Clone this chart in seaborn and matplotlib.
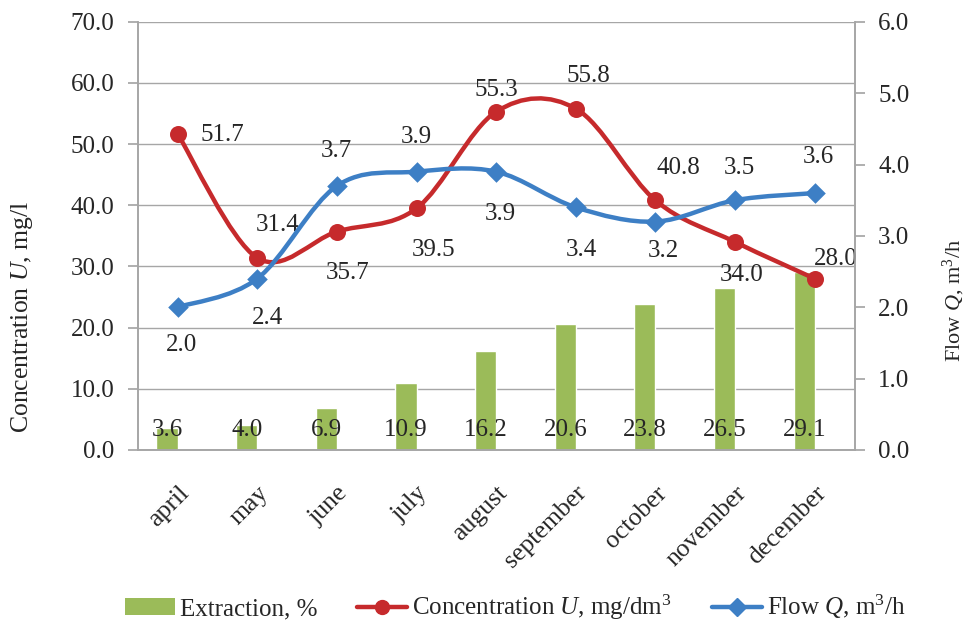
import numpy as np
import pandas as pd
import matplotlib
matplotlib.use("Agg")
import matplotlib.pyplot as plt
from matplotlib.path import Path
from matplotlib.patches import PathPatch, Patch
from matplotlib.lines import Line2D
import seaborn as sns

# data
months = ["april", "may", "june", "july", "august", "september",
          "october", "november", "december"]
extraction = [3.6, 4.0, 6.9, 10.9, 16.2, 20.6, 23.8, 26.5, 29.1]
concentration = [51.7, 31.4, 35.7, 39.5, 55.3, 55.8, 40.8, 34.0, 28.0]
flow = [2.0, 2.4, 3.7, 3.9, 3.9, 3.4, 3.2, 3.5, 3.6]

# label offsets in pixels (dx, dy) relative to each marker
conc_offsets = [(45, -1), (20, 33), (11, -41), (17, -42), (0, 22),
                (13, 33), (23, 32), (7, -33), (21, 20)]
flow_offsets = [(4, -38), (10, -39), (0, 35), (0, 35), (4, -42),
                (6, -43), (8, -29), (4, 32), (4, 36)]

RED = "#C62A2C"
BLUE = "#3D7FC5"
GREEN = "#9BBB59"
GRID = "#A6A6A6"

sns.set_theme(style="white")
plt.rcParams["font.family"] = ["Liberation Serif", "DejaVu Serif"]
plt.rcParams["mathtext.fontset"] = "custom"
plt.rcParams["mathtext.rm"] = "Liberation Serif"
plt.rcParams["mathtext.it"] = "Liberation Serif:italic"

FS = 18


def smooth_path(xs, ys):
    """Excel-like smoothed line: Catmull-Rom segments as cubic Beziers."""
    pts = np.column_stack([xs, ys]).astype(float)
    ext = np.vstack([pts[0], pts, pts[-1]])
    verts = [pts[0]]
    codes = [Path.MOVETO]
    for i in range(1, len(ext) - 2):
        p0, p1, p2, p3 = ext[i - 1], ext[i], ext[i + 1], ext[i + 2]
        verts += [p1 + (p2 - p0) / 6.0, p2 - (p3 - p1) / 6.0, p2]
        codes += [Path.CURVE4] * 3
    return Path(verts, codes)


fig = plt.figure(figsize=(9.7, 6.24), dpi=100)
ax = fig.add_axes([0.142, 0.279, 0.739, 0.686])

x = np.arange(len(months))

# bars: a second empty hue level pushes the visible bar left of the category centre
df = pd.DataFrame({
    "month": months * 2,
    "value": extraction + [0.0] * len(months),
    "series": ["Extraction, %"] * len(months) + ["blank"] * len(months),
})
sns.barplot(data=df, x="month", y="value", hue="series", order=months,
            palette=[GREEN, "white"], width=0.53, gap=0, dodge=True,
            legend=False, saturation=1, ax=ax, zorder=2)

ax.set_xlim(-0.5, len(months) - 0.5)
ax.set_ylim(0, 70)
ax.set_yticks(np.arange(0, 71, 10))
ax.set_yticklabels([f"{v:.1f}" for v in np.arange(0, 71, 10)], fontsize=FS)
ax.yaxis.grid(True, color=GRID, linewidth=1.0)
ax.set_axisbelow(True)
ax.set_xlabel("")
ax.set_ylabel("Concentration $U$, mg/l", fontsize=18.5)
ax.yaxis.set_label_coords(-0.144, 0.311)

ax.set_xticks(x)
ax.set_xticklabels(months, rotation=45, ha="right", rotation_mode="anchor",
                   fontsize=18.5)
ax.set_xticks(np.arange(-0.5, len(months), 1.0), minor=True)
ax.tick_params(axis="x", which="major", length=0, pad=23)
ax.tick_params(axis="x", which="minor", length=7, color=GRID, direction="out")
ax.tick_params(axis="y", length=7, color=GRID, direction="out", left=True,
               pad=10)

for side in ["left", "right", "bottom"]:
    ax.spines[side].set_color(GRID)
    ax.spines[side].set_linewidth(1.2)
ax.spines["top"].set_visible(False)

# extraction labels sit at the foot of each bar
for i, v in enumerate(extraction):
    ax.text(i - 0.13, 3.3, f"{v:.1f}", ha="center", va="center",
            fontsize=FS, zorder=5)

# concentration (left axis)
ax.add_patch(PathPatch(smooth_path(x, concentration), facecolor="none",
                       edgecolor=RED, linewidth=3.2, zorder=4,
                       capstyle="round", joinstyle="round"))
sns.scatterplot(x=x, y=concentration, color=RED, marker="o", s=150,
                edgecolor=RED, linewidth=0, ax=ax, zorder=5)
for i, v in enumerate(concentration):
    ax.annotate(f"{v:.1f}", (x[i], v), xytext=conc_offsets[i],
                textcoords="offset pixels", ha="center", va="center",
                fontsize=FS, zorder=6)

# flow (right axis)
ax2 = ax.twinx()
ax2.set_ylim(0, 6)
ax2.set_yticks(np.arange(0, 6.1, 1))
ax2.set_yticklabels([f"{v:.1f}" for v in np.arange(0, 6.1, 1)], fontsize=FS)
ax2.tick_params(axis="y", length=7, color=GRID, direction="out", right=True,
                pad=10)
ax2.set_ylabel("Flow $Q$, m$^3$/h", fontsize=16)
ax2.yaxis.set_label_coords(1.121, 0.35)
for side in ["left", "right", "bottom"]:
    ax2.spines[side].set_color(GRID)
    ax2.spines[side].set_linewidth(1.2)
ax2.spines["top"].set_visible(False)
ax2.grid(False)

ax2.add_patch(PathPatch(smooth_path(x, flow), facecolor="none",
                        edgecolor=BLUE, linewidth=3.2, zorder=4,
                        capstyle="round", joinstyle="round"))
sns.scatterplot(x=x, y=flow, color=BLUE, marker="D", s=110,
                edgecolor=BLUE, linewidth=0, ax=ax2, zorder=5)
for i, v in enumerate(flow):
    ax2.annotate(f"{v:.1f}", (x[i], v), xytext=flow_offsets[i],
                 textcoords="offset pixels", ha="center", va="center",
                 fontsize=FS, zorder=6)
ax2.set_xlim(-0.5, len(months) - 0.5)

handles = [
    Patch(facecolor=GREEN, edgecolor="none"),
    Line2D([], [], color=RED, linewidth=3.2, marker="o", markersize=10),
    Line2D([], [], color=BLUE, linewidth=3.2, marker="D", markersize=9),
]
labels = ["Extraction, %", "Concentration $U$, mg/dm$^3$", "Flow $Q$, m$^3$/h"]
fig.legend(handles, labels, loc="center", bbox_to_anchor=(0.531, 0.026),
           ncol=3, frameon=False, fontsize=18, handlelength=2.0,
           handletextpad=0.2, columnspacing=1.6)

fig.savefig("out.png", dpi=100)
